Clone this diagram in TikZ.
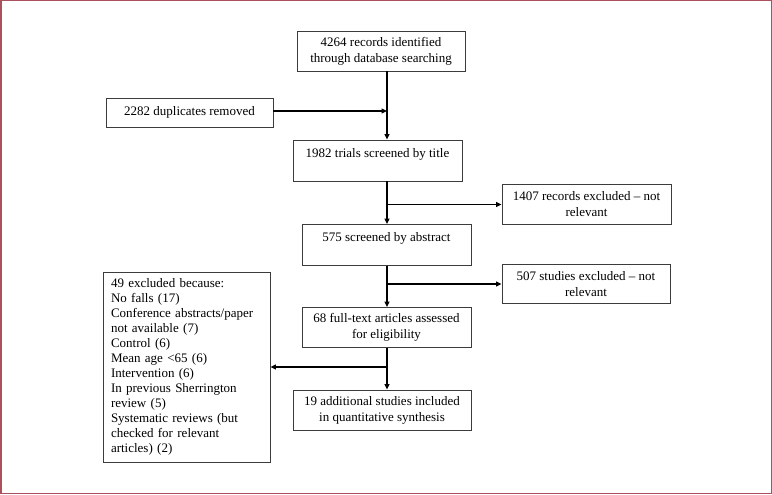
\documentclass[tikz,border=0pt]{standalone}
\usepackage{fontspec}
\setmainfont{Liberation Serif}
\usetikzlibrary{arrows.meta}
\definecolor{framecol}{RGB}{170,80,95}
\definecolor{boxcol}{RGB}{60,60,60}
\begin{document}
\begin{tikzpicture}[x=1pt,y=-1pt,
  box/.style={draw=boxcol,line width=0.9pt,inner sep=0pt,align=center,
    font=\fontsize{13}{16}\selectfont},
  conn/.style={line width=1.3pt,black},
  arr/.style={conn,-{Triangle[length=5.5pt,width=5pt]}}]
\useasboundingbox (0,0) rectangle (772,495);
\draw[framecol,line width=1.5pt] (0.75,0.75) rectangle (771.25,493.5);
\coordinate (spine) at (387,0);
\node[box,minimum width=168pt,minimum height=40pt] (a) at (381,51)
  {4264 records identified\\through database searching};
\node[box,minimum width=167pt,minimum height=29pt] (b) at (189.5,112.5)
  {2282 duplicates removed};
\node[box,minimum width=169pt,minimum height=41pt] (c) at (377.5,160.5)
  {1982 trials screened by title\\\mbox{}};
\node[box,minimum width=169pt,minimum height=40pt] (d) at (586.5,204.5)
  {1407 records excluded -- not\\relevant};
\node[box,minimum width=169pt,minimum height=41pt] (e) at (386.5,245)
  {575 screened by abstract\\\mbox{}};
\node[box,minimum width=168pt,minimum height=39pt] (f) at (586,284)
  {507 studies excluded -- not\\relevant};
\node[box,minimum width=169pt,minimum height=40pt] (g) at (386.5,327.5)
  {68 full-text articles assessed\\for eligibility};
\node[box,minimum width=178pt,minimum height=40pt] (h) at (382,410)
  {19 additional studies included\\in quantitative synthesis};
\node[box,minimum width=167pt,minimum height=190pt,text width=151pt,align=left,
  font=\fontsize{13}{15}\selectfont] (i) at (186.5,367)
  {49 excluded because:\\No falls (17)\\Conference abstracts/paper\\not available (7)\\Control (6)\\Mean age <65 (6)\\Intervention (6)\\In previous Sherrington\\review (5)\\Systematic reviews (but\\checked for relevant\\articles) (2)};
% main spine
\draw[arr] (a.south -| spine) -- (c.north -| spine);
\draw[arr] (b.east |- 0,111) -- (spine |- 0,111);
\draw[arr] (c.south -| spine) -- (e.north -| spine);
\draw[arr] (spine |- d.west) -- (d.west);
\draw[arr] (e.south -| spine) -- (g.north -| spine);
\draw[arr] (spine |- f.west) -- (f.west);
\draw[arr] (g.south -| spine) -- (h.north -| spine);
\draw[arr] (spine |- i.east) -- (i.east);
\end{tikzpicture}
\end{document}
